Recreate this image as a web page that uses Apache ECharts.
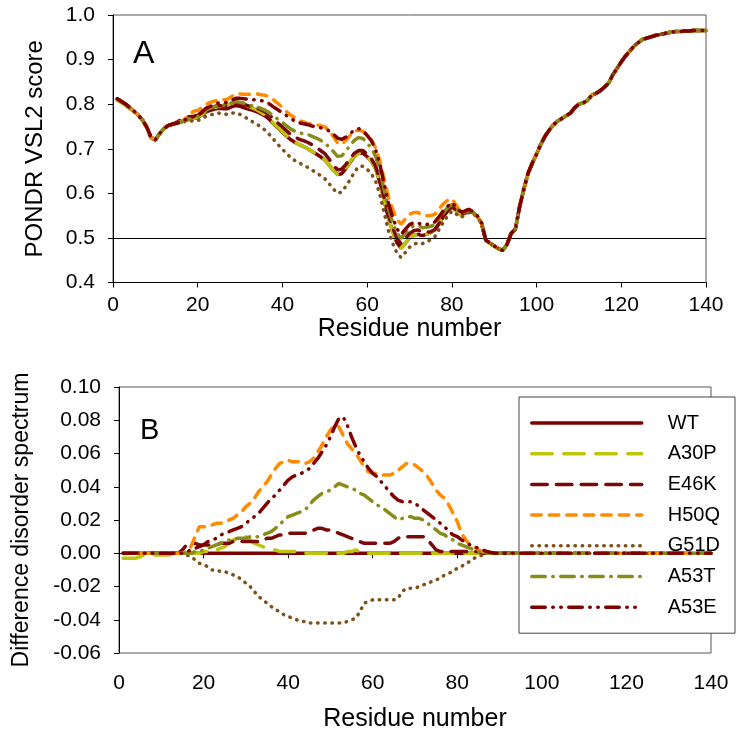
<!DOCTYPE html>
<html>
<head>
<meta charset="utf-8">
<script src="https://cdn.jsdelivr.net/npm/echarts@6.0.0/dist/echarts.min.js"></script>
<style>
  html, body { margin: 0; padding: 0; background: #fff; }
  #chart { width: 750px; height: 746px; }
</style>
</head>
<body>
<div id="chart"></div>
<script>
// residue numbers 1..140
var residues = Array.from({ length: 140 }, function (_, i) { return i + 1; });

// panel A: wild type PONDR VSL2 score per residue
var wt = [
  0.812, 0.806, 0.800, 0.792, 0.784, 0.775, 0.764, 0.748, 0.725, 0.720,
  0.734, 0.745, 0.752, 0.755, 0.757, 0.760, 0.763, 0.766, 0.768, 0.770,
  0.776, 0.783, 0.786, 0.789, 0.791, 0.790, 0.790, 0.794, 0.797, 0.795,
  0.792, 0.789, 0.786, 0.783, 0.778, 0.773, 0.765, 0.755, 0.746, 0.737,
  0.728, 0.720, 0.714, 0.709, 0.705, 0.700, 0.694, 0.688, 0.682, 0.675,
  0.664, 0.652, 0.642, 0.644, 0.656, 0.670, 0.683, 0.690, 0.690, 0.682,
  0.672, 0.655, 0.625, 0.585, 0.545, 0.515, 0.490, 0.477, 0.488, 0.500,
  0.506, 0.508, 0.505, 0.508, 0.512, 0.518, 0.532, 0.548, 0.560, 0.569,
  0.562, 0.552, 0.555, 0.560, 0.556, 0.548, 0.533, 0.495, 0.488, 0.482,
  0.476, 0.472, 0.485, 0.510, 0.520, 0.570, 0.610, 0.645, 0.668, 0.688,
  0.710, 0.728, 0.742, 0.754, 0.762, 0.768, 0.774, 0.780, 0.792, 0.800,
  0.803, 0.808, 0.820, 0.824, 0.830, 0.838, 0.847, 0.866, 0.880, 0.895,
  0.908, 0.919, 0.930, 0.938, 0.945, 0.948, 0.951, 0.954, 0.956, 0.958,
  0.960, 0.962, 0.963, 0.963, 0.964, 0.964, 0.965, 0.965, 0.965, 0.965
];

// panel B: mutant minus WT, residues 1..90 (beyond 90 all curves coincide with WT)
var dA30P = [
  -0.003, -0.003, -0.003, -0.003, -0.002, -0.001, -0.001, -0.001, -0.001, -0.001,
  -0.001, -0.001, 0, 0, 0, 0, 0, 0, 0, 0.001,
  0.001, 0.002, 0.002, 0.003, 0.004, 0.006, 0.008, 0.009, 0.010, 0.010,
  0.008, 0.006, 0.005, 0.004, 0.003, 0.002, 0.002, 0.001, 0.001, 0.001,
  0.001, 0.001, 0, 0, 0, 0, 0, 0, 0, 0,
  0, 0, 0, 0.001, 0.001, 0.002, 0.001, 0, 0, 0,
  0, 0, 0, 0, 0, 0, 0, 0, 0, 0,
  0, 0, 0, 0, 0, 0, 0, 0, 0, 0,
  0, 0, 0, 0, 0, 0, 0, 0, 0, 0
];
var dE46K = [
  0, 0, 0, 0, 0, 0, 0, 0, 0, 0,
  0, 0, 0, 0, 0.002, 0.005, 0.006, 0.006, 0.005, 0.005,
  0.005, 0.005, 0.005, 0.006, 0.006, 0.006, 0.007, 0.007, 0.007, 0.007,
  0.007, 0.007, 0.007, 0.008, 0.009, 0.009, 0.010, 0.011, 0.011, 0.012,
  0.012, 0.012, 0.012, 0.012, 0.013, 0.014, 0.015, 0.015, 0.014, 0.014,
  0.013, 0.012, 0.011, 0.010, 0.009, 0.008, 0.007, 0.006, 0.006, 0.006,
  0.006, 0.006, 0.006, 0.006, 0.007, 0.009, 0.010, 0.010, 0.010, 0.010,
  0.010, 0.010, 0.008, 0.005, 0.002, 0.001, 0.001, 0.001, 0.001, 0.001,
  0.001, 0.001, 0.001, 0.001, 0.001, 0, 0, 0, 0, 0
];
var dH50Q = [
  0, 0, 0, 0, 0, 0, 0, 0, 0, 0,
  0, 0, 0, 0, 0, 0.001, 0.004, 0.010, 0.016, 0.016,
  0.016, 0.017, 0.018, 0.018, 0.019, 0.020, 0.021, 0.023, 0.025, 0.028,
  0.030, 0.033, 0.037, 0.040, 0.043, 0.047, 0.051, 0.054, 0.055, 0.056,
  0.055, 0.055, 0.055, 0.054, 0.055, 0.057, 0.061, 0.065, 0.070, 0.074,
  0.077, 0.076, 0.071, 0.066, 0.063, 0.060, 0.056, 0.052, 0.049, 0.048,
  0.048, 0.047, 0.047, 0.047, 0.048, 0.050, 0.052, 0.054, 0.054, 0.053,
  0.051, 0.049, 0.046, 0.042, 0.038, 0.035, 0.033, 0.029, 0.024, 0.019,
  0.012, 0.008, 0.005, 0.004, 0.002, 0.001, 0, 0, 0, 0
];
var dG51D = [
  0, 0, 0, 0, 0, 0, 0, 0, 0, 0,
  0, 0, 0, 0, 0, -0.001, -0.002, -0.004, -0.006, -0.007,
  -0.008, -0.010, -0.010, -0.011, -0.011, -0.012, -0.013, -0.014, -0.016, -0.018,
  -0.020, -0.023, -0.026, -0.028, -0.030, -0.032, -0.034, -0.035, -0.037, -0.038,
  -0.039, -0.040, -0.041, -0.041, -0.042, -0.042, -0.042, -0.042, -0.042, -0.042,
  -0.042, -0.042, -0.042, -0.041, -0.040, -0.039, -0.035, -0.030, -0.029, -0.028,
  -0.028, -0.028, -0.028, -0.028, -0.028, -0.027, -0.023, -0.021, -0.021, -0.021,
  -0.020, -0.019, -0.018, -0.017, -0.016, -0.015, -0.013, -0.012, -0.011, -0.009,
  -0.008, -0.006, -0.005, -0.003, -0.002, -0.001, 0, 0, 0, 0
];
var dA53T = [
  0, 0, 0, 0, 0, 0, 0, 0, 0, 0,
  0, 0, 0, 0, 0, 0, 0, 0.001, 0.001, 0.002,
  0.003, 0.004, 0.005, 0.006, 0.007, 0.008, 0.008, 0.009, 0.009, 0.009,
  0.010, 0.010, 0.010, 0.011, 0.012, 0.013, 0.015, 0.017, 0.020, 0.022,
  0.023, 0.024, 0.025, 0.026, 0.029, 0.032, 0.034, 0.036, 0.037, 0.038,
  0.040, 0.042, 0.041, 0.040, 0.039, 0.038, 0.036, 0.035, 0.033, 0.031,
  0.029, 0.028, 0.026, 0.024, 0.022, 0.020, 0.021, 0.022, 0.022, 0.021,
  0.021, 0.020, 0.018, 0.016, 0.014, 0.012, 0.011, 0.009, 0.008, 0.006,
  0.005, 0.004, 0.003, 0.002, 0.001, 0.0005, 0, 0, 0, 0
];
var dA53E = [
  0, 0, 0, 0, 0, 0, 0, 0, 0, 0,
  0, 0, 0, 0, 0, 0.001, 0.002, 0.003, 0.004, 0.005,
  0.007, 0.008, 0.009, 0.011, 0.012, 0.013, 0.014, 0.015, 0.016, 0.018,
  0.020, 0.022, 0.024, 0.027, 0.030, 0.033, 0.035, 0.038, 0.041, 0.044,
  0.046, 0.047, 0.048, 0.049, 0.051, 0.054, 0.057, 0.061, 0.065, 0.070,
  0.076, 0.081, 0.082, 0.077, 0.070, 0.064, 0.059, 0.055, 0.051, 0.048,
  0.046, 0.043, 0.040, 0.037, 0.034, 0.032, 0.031, 0.031, 0.031, 0.030,
  0.028, 0.026, 0.024, 0.022, 0.020, 0.018, 0.016, 0.013, 0.011, 0.010,
  0.008, 0.007, 0.005, 0.004, 0.003, 0.002, 0.001, 0.0005, 0, 0
];

var names = ['WT', 'A30P', 'E46K', 'H50Q', 'G51D', 'A53T', 'A53E'];
var diffs = [[], dA30P, dE46K, dH50Q, dG51D, dA53T, dA53E];
var colors = ['#7d0000', '#bcc40c', '#7a0a0a', '#ff8c00', '#7f5017', '#8a8c1a', '#800000'];
var dashes = ['solid', [20.5, 11.5], [15.5, 9.2], [9.5, 8], [0.5, 6.7],
  [13.5, 7.5, 0.5, 7.5], [13.5, 7.5, 0.5, 7.5, 0.5, 7.5]];

var font = 'Liberation Sans, Arial, sans-serif';

function diffAt(d, i) { return i < d.length ? d[i] : 0; }

var series = [];
names.forEach(function (name, k) {
  var d = diffs[k];
  var base = {
    name: name,
    type: 'line',
    symbol: 'none',
    showSymbol: false,
    silent: true,
    z: 2 + k,
    lineStyle: { color: colors[k], width: 3.5, type: dashes[k], cap: 'round' },
    itemStyle: { color: colors[k] }
  };
  var top = Object.assign({}, base, {
    xAxisIndex: 0, yAxisIndex: 0,
    data: residues.map(function (r, i) { return [r, wt[i] + diffAt(d, i)]; })
  });
  if (k === 0) {
    top.markLine = {
      silent: true, symbol: 'none', label: { show: false },
      lineStyle: { color: '#000', width: 1, type: 'solid' },
      data: [{ yAxis: 0.5 }]
    };
  }
  series.push(top);
  series.push(Object.assign({}, base, {
    xAxisIndex: 1, yAxisIndex: 1,
    data: residues.map(function (r, i) { return [r, diffAt(d, i)]; })
  }));
});

function xAxis(grid, labelMargin, nameGap) {
  return {
    gridIndex: grid, type: 'value', min: 0, max: 140, interval: 20,
    name: 'Residue number', nameLocation: 'middle', nameGap: nameGap,
    nameTextStyle: { fontFamily: font, fontSize: 25, color: '#000' },
    axisLine: { lineStyle: { color: '#000', width: 1 } },
    axisTick: { length: 5, lineStyle: { color: '#000' } },
    axisLabel: { fontFamily: font, fontSize: 21, color: '#000', margin: labelMargin },
    splitLine: { show: false }
  };
}

var option = {
  animation: false,
  backgroundColor: '#fff',
  grid: [
    { left: 113, top: 15, right: 44, bottom: 463.5, show: true, borderColor: '#555', borderWidth: 1 },
    { left: 119, top: 387, right: 39, bottom: 93, show: true, borderColor: '#555', borderWidth: 1 }
  ],
  xAxis: [xAxis(0, 12, 28), xAxis(1, 20, 54)],
  yAxis: [
    {
      gridIndex: 0, type: 'value', min: 0.4, max: 1.0, interval: 0.1,
      name: 'PONDR VSL2 score', nameLocation: 'middle', nameGap: 66,
      nameTextStyle: { fontFamily: font, fontSize: 24, color: '#000' },
      axisLine: { show: true, lineStyle: { color: '#000', width: 1 } },
      axisTick: { show: true, length: 5, lineStyle: { color: '#000' } },
      axisLabel: { fontFamily: font, fontSize: 21, color: '#000', margin: 18,
        formatter: function (v) { return v.toFixed(1); } },
      splitLine: { show: false }
    },
    {
      gridIndex: 1, type: 'value', min: -0.06, max: 0.10, interval: 0.02,
      name: 'Difference disorder spectrum', nameLocation: 'middle', nameGap: 86,
      nameTextStyle: { fontFamily: font, fontSize: 23, color: '#000' },
      axisLine: { show: true, lineStyle: { color: '#000', width: 1 } },
      axisTick: { show: true, length: 5, lineStyle: { color: '#000' } },
      axisLabel: { fontFamily: font, fontSize: 21, color: '#000', margin: 18,
        formatter: function (v) { return v.toFixed(2); } },
      splitLine: { show: false }
    }
  ],
  legend: {
    data: names,
    orient: 'vertical',
    left: 519, top: 397,
    padding: [16, 15, 16, 11],
    itemWidth: 110, itemHeight: 14, itemGap: 10.7,
    backgroundColor: '#fff',
    borderColor: '#444', borderWidth: 1,
    selectedMode: false,
    itemStyle: { opacity: 0 },
    lineStyle: { width: 3.5, cap: 'round' },
    textStyle: { fontFamily: font, fontSize: 20, color: '#000', padding: [0, 0, 0, 21] }
  },
  graphic: [
    { type: 'text', left: 133, top: 38, z: 100,
      style: { text: 'A', fontFamily: font, fontSize: 32, fill: '#000' } },
    { type: 'text', left: 140, top: 416, z: 100,
      style: { text: 'B', fontFamily: font, fontSize: 29, fill: '#000' } }
  ],
  series: series
};

var myChart = echarts.init(document.getElementById('chart'));
myChart.setOption(option);
</script>
</body>
</html>
